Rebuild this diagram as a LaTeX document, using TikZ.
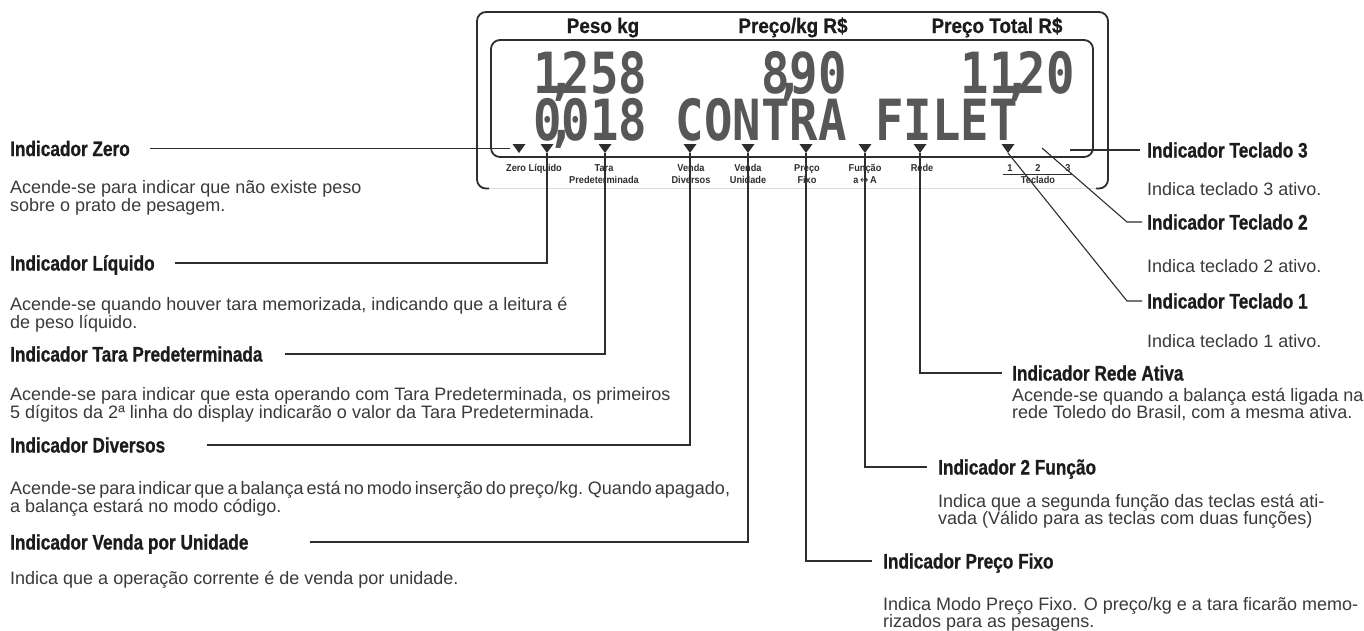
\documentclass[tikz,border=0pt]{standalone}
\usepackage{fontspec}
\usepackage{graphicx}
\setmainfont{Liberation Sans}
\newfontfamily\headfont[FakeStretch=0.82, BoldFeatures={FakeBold=0.8}]{Liberation Sans}
\newfontfamily\titlefont[FakeStretch=0.9, BoldFeatures={FakeBold=0.6}]{Liberation Sans}
\newfontfamily\labfont[FakeStretch=0.92]{Liberation Sans}
\newfontfamily\lcdfont{DejaVu Sans Mono}
\newfontfamily\symfont{DejaVu Sans}
\definecolor{ink}{HTML}{2E2E2E}
\definecolor{headc}{HTML}{1C1C1C}
\definecolor{txtc}{HTML}{3A3A3A}
\definecolor{lcdc}{HTML}{575757}
\definecolor{faintc}{HTML}{DCDCDC}
\newcommand\topfix[1]{\rule{0pt}{#1}}
\newcommand\lcdcomma{\smash{\makebox[0pt]{,}}}
\tikzset{
  heading/.style={inner sep=0pt, text height=15pt, text depth=0pt, text=headc, font=\headfont\bfseries\fontsize{21}{21}\selectfont},
  bodyL/.style={anchor=north west, inner sep=0pt, align=left, text=txtc, font=\fontsize{18}{18}\selectfont},
  bodyR/.style={bodyL, font=\fontsize{18}{17.5}\selectfont},
  title/.style={anchor=base, inner sep=0pt, text=headc, font=\titlefont\bfseries\fontsize{21}{21}\selectfont},
  lab/.style={anchor=north, inner sep=0pt, align=center, text=ink, font=\labfont\bfseries\fontsize{10}{12}\selectfont},
  lcd/.style={anchor=base west, inner sep=0pt, text=lcdc, font=\lcdfont\bfseries\fontsize{47.3}{47.3}\selectfont},
  conn/.style={draw=ink, line width=1.1pt},
  frame/.style={draw=ink, line width=1.8pt},
}
\begin{document}
\begin{tikzpicture}[x=1pt,y=-1pt]
\fill[white] (0,0) rectangle (1364,630);
\useasboundingbox (0,0) rectangle (1364,630);

% ---- display frame
\draw[faintc, line width=1pt] (487,188.5) -- (1098,188.5);
\draw[frame, rounded corners=9pt] (489,188.5) -- (477,188.5) -- (477,12) -- (1108,12) -- (1108,188.5) -- (1096,188.5);
\draw[frame, rounded corners=9pt] (491,40) rectangle (1093,157);

% ---- titles
\node[title] (tPeso) at (603,33) {Peso kg};
\node[title] (tPkg) at (793,33) {Preço/kg R\$};
\node[title] (tTot) at (997,33) {Preço Total R\$};

% ---- display characters
\node[lcd] (d1) at (533,93) {\scalebox{1}[1.2]{1\lcdcomma258}};
\node[lcd] (d2) at (761,93) {\scalebox{1}[1.2]{8\lcdcomma90}};
\node[lcd] (d3) at (960.5,93) {\scalebox{1}[1.2]{11\lcdcomma20}};
\node[lcd] (d4) at (533,140) {\scalebox{1}[1.2]{0\lcdcomma018}};
\node[lcd] (d5) at (675.5,140) {\scalebox{1}[1.2]{CONTRA}};
\node[lcd] (d6) at (875,140) {\scalebox{1}[1.2]{FILET}};

% ---- indicator triangles
\foreach \n/\x in {tZ/519, tL/547, tT/605, tD/690, tU/748, tP/806, tF/865, tR/920, tK/1008} {
  \coordinate (\n) at (\x,153);
  \fill[ink] (\n) -- ++(-6.5,-9) -- ++(13,0) -- cycle;
}

% ---- indicator labels
\node[lab] (lZL) at (534,163) {\topfix{8pt}Zero Líquido};
\node[lab] (lTP) at (604,163) {\topfix{8pt}Tara\\Predeterminada};
\node[lab] (lVD) at (691,163) {\topfix{8pt}Venda\\Diversos};
\node[lab] (lVU) at (748,163) {\topfix{8pt}Venda\\Unidade};
\node[lab] (lPF) at (807,163) {\topfix{8pt}Preço\\Fixo};
\node[lab] (lFu) at (865,163) {\topfix{8pt}Função\\a\,{\symfont\mdseries ↔}\,A};
\node[lab] (lRe) at (922,163) {\topfix{8pt}Rede};
\node[lab] (lK1) at (1010,163) {\topfix{8pt}1};
\node[lab] (lK2) at (1038,163) {\topfix{8pt}2};
\node[lab] (lK3) at (1068,163) {\topfix{8pt}3};
\draw[ink, line width=0.8pt] (1003,174) -- (1073,174);
\node[lab] (lKt) at (1038,175) {\topfix{8pt}Teclado};

% ---- left headings and texts
\node[heading, anchor=west] (hZero) at (10,148.5) {Indicador Zero};
\node[bodyL] (bZero) at (10,178) {\topfix{15pt}Acende-se para indicar que não existe peso\\sobre o prato de pesagem.};

\node[heading, anchor=west] (hLiq) at (10,263) {Indicador Líquido};
\node[bodyL] (bLiq) at (10,295) {\topfix{15pt}Acende-se quando houver tara memorizada, indicando que a leitura é\\de peso líquido.};

\node[heading, anchor=west] (hTara) at (10,354) {Indicador Tara Predeterminada};
\node[bodyL] (bTara) at (10,385) {\topfix{15pt}Acende-se para indicar que esta operando com Tara Predeterminada, os primeiros\\5 dígitos da 2ª linha do display indicarão o valor da Tara Predeterminada.};

\node[heading, anchor=west] (hDiv) at (10,445) {Indicador Diversos};
\node[bodyL] (bDiv) at (10,479) {\topfix{15pt}{\spaceskip=0.17em\relax Acende-se para indicar que a balança está no modo inserção do preço/kg. Quando apagado,}\\a balança estará no modo código.};

\node[heading, anchor=west] (hVen) at (10,542) {Indicador Venda por Unidade};
\node[bodyL] (bVen) at (10,569) {\topfix{15pt}Indica que a operação corrente é de venda por unidade.};

% ---- right headings and texts
\node[heading, anchor=west] (hT3) at (1147,150) {Indicador Teclado 3};
\node[bodyR] (bT3) at (1147,180) {\topfix{15pt}Indica teclado 3 ativo.};

\node[heading, anchor=west] (hT2) at (1147,222) {Indicador Teclado 2};
\node[bodyR] (bT2) at (1147,257) {\topfix{15pt}Indica teclado 2 ativo.};

\node[heading, anchor=west] (hT1) at (1147,301) {Indicador Teclado 1};
\node[bodyR] (bT1) at (1147,332) {\topfix{15pt}Indica teclado 1 ativo.};

\node[heading, anchor=west] (hRede) at (1012,373) {Indicador Rede Ativa};
\node[bodyR] (bRede) at (1012,386) {\topfix{15pt}Acende-se quando a balança está ligada na\\rede Toledo do Brasil, com a mesma ativa.};

\node[heading, anchor=west] (hFun) at (938,467) {Indicador 2 Função};
\node[bodyR] (bFun) at (938,492) {\topfix{15pt}Indica que a segunda função das teclas está ati-\\vada (Válido para as teclas com duas funções)};

\node[heading, anchor=west] (hPF) at (883,561) {Indicador Preço Fixo};
\node[bodyR] (bPF) at (883,595) {\topfix{15pt}Indica Modo Preço Fixo. O preço/kg e a tara ficarão memo-\\rizados para as pesagens.};

% ---- connector end points
\coordinate (tZl) at (510,148.5);
\coordinate (k1c) at (1127,301);
\coordinate (k2s) at (1042,148);
\coordinate (k2c) at (1127,222);
\coordinate (k3s) at (1070,150);

% ---- connectors
\draw[conn] ([xshift=20pt]hZero.east) -- (tZl);
\draw[conn] ([xshift=20pt]hLiq.east) -| (tL);
\draw[conn] ([xshift=22pt]hTara.east) -| (tT);
\draw[conn] ([xshift=42pt]hDiv.east) -| (tD);
\draw[conn] ([xshift=61pt]hVen.east) -| (tU);
\draw[conn] (tP) |- ([xshift=-11pt]hPF.west);
\draw[conn] (tF) |- ([xshift=-11pt]hFun.west);
\draw[conn] (tR) |- ([xshift=-10pt]hRede.west);
\draw[conn] (tK) -- (k1c) -- ([xshift=-5pt]hT1.west);
\draw[conn] (k2s) -- (k2c) -- ([xshift=-5pt]hT2.west);
\draw[conn] (k3s) -- ([xshift=-7pt]hT3.west);
\end{tikzpicture}
\end{document}
